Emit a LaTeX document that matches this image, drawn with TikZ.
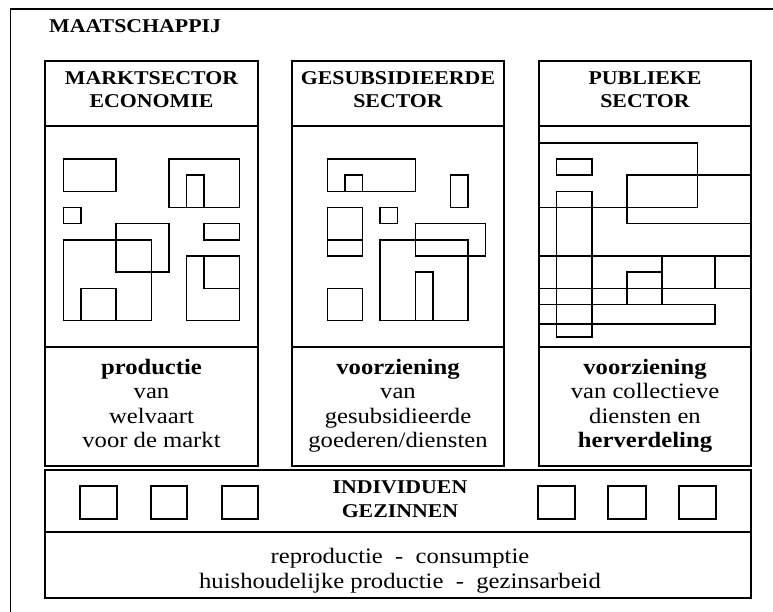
\documentclass[tikz,border=0pt]{standalone}
\usepackage{fontspec}
\setmainfont{Liberation Serif}[FakeStretch=1.12]
\begin{document}
\begin{tikzpicture}[x=1pt,y=-1pt,
  frame/.style={line width=1.9pt},
  colbox/.style={draw, line width=1.6pt},
  divline/.style={line width=1.4pt},
  blk/.style={draw, line width=1.5pt},
  head/.style={font=\fontsize{19.5}{23}\bfseries\selectfont, anchor=base, inner sep=0pt},
  body/.style={font=\fontsize{22}{24}\selectfont, anchor=base, inner sep=0pt},
  bodyb/.style={font=\fontsize{22}{24}\bfseries\selectfont, anchor=base, inner sep=0pt},
]
\useasboundingbox (0,0) rectangle (773,612);
\clip (0,0) rectangle (773,612);
\fill[white] (0,0) rectangle (773,612);

% outer frame (runs past the right and bottom edges)
\draw[frame] (10.5,640) -- (10.5,9) -- (800,9);
\node[head, anchor=base west] (maat) at (49,33) {MAATSCHAPPIJ};

% three sector columns
\draw[colbox] (45,61) rectangle (258,466);
\draw[divline] (45,126) -- (258,126) (45,347) -- (258,347);
\draw[colbox] (292,61) rectangle (504,466);
\draw[divline] (292,126) -- (504,126) (292,347) -- (504,347);
\draw[colbox] (539,61) rectangle (751,466);
\draw[divline] (539,126) -- (751,126) (539,347) -- (751,347);

% headings
\node[head] (h1a) at (151.5,84.5) {MARKTSECTOR};
\node[head] (h1b) at (151.5,108) {ECONOMIE};
\node[head] (h2a) at (398,84.5) {GESUBSIDIEERDE};
\node[head] (h2b) at (398,108) {SECTOR};
\node[head] (h3a) at (645,84.5) {PUBLIEKE};
\node[head] (h3b) at (645,108) {SECTOR};

% organisations in the market sector
\begin{scope}[shift={(63.3,159)}, x=17.6pt, y=-16.17pt]
  \draw[blk] (0,0) rectangle (3,2);
  \draw[blk] (6,0) rectangle (10,3);
  \draw[blk] (7,1) rectangle (8,3);
  \draw[blk] (0,3) rectangle (1,4);
  \draw[blk] (8,4) rectangle (10,5);
  \draw[blk] (3,4) rectangle (6,7);
  \draw[blk] (0,5) rectangle (5,10);
  \draw[blk] (1,8) rectangle (3,10);
  \draw[blk] (7,6) rectangle (10,10);
  \draw[blk] (8,6) rectangle (10,8);
\end{scope}

% organisations in the subsidised sector
\begin{scope}[shift={(327.3,159)}, x=17.6pt, y=-16.17pt]
  \draw[blk] (0,0) rectangle (5,2);
  \draw[blk] (1,1) rectangle (2,2);
  \draw[blk] (7,1) rectangle (8,3);
  \draw[blk] (0,3) rectangle (2,6);
  \draw[blk] (0,5) rectangle (2,6);
  \draw[blk] (3,3) rectangle (4,4);
  \draw[blk] (5,4) rectangle (9,6);
  \draw[blk] (3,5) rectangle (8,10);
  \draw[blk] (5,7) rectangle (6,10);
  \draw[blk] (0,8) rectangle (2,10);
\end{scope}

% organisations in the public sector
\begin{scope}[shift={(556.6,159)}, x=17.6pt, y=-16.17pt]
  \draw[blk] (-1,-1) rectangle (8,3);
  \draw[blk] (0,0) rectangle (2,1);
  \draw[blk] (4,1) rectangle (11.03,4);
  \draw[blk] (0,2) rectangle (2,11);
  \draw[blk] (-1,6) rectangle (11.03,8);
  \draw[blk] (6,6) rectangle (9,8);
  \draw[blk] (4,7) rectangle (6,9);
  \draw[blk] (-1,9) rectangle (9,10.2);
\end{scope}

% column descriptions
\node[bodyb] (t1a) at (151.5,374) {productie};
\node[body]  (t1b) at (151.5,398.5) {van};
\node[body]  (t1c) at (151.5,423) {welvaart};
\node[body]  (t1d) at (151.5,447) {voor de markt};

\node[bodyb] (t2a) at (398,374) {voorziening};
\node[body]  (t2b) at (398,398.5) {van};
\node[body]  (t2c) at (398,423) {gesubsidieerde};
\node[body]  (t2d) at (398,447) {goederen/diensten};

\node[bodyb] (t3a) at (645,374) {voorziening};
\node[body]  (t3b) at (645,398.5) {van collectieve};
\node[body]  (t3c) at (645,423) {diensten en};
\node[bodyb] (t3d) at (645,447) {herverdeling};

% households
\draw[colbox] (45,470) rectangle (751,598);
\draw[line width=1.1pt] (45,532) -- (751,532);
\draw[blk] (80,486) rectangle (117,519);
\draw[blk] (151,486) rectangle (187,519);
\draw[blk] (222,486) rectangle (258,519);
\draw[blk] (538,486) rectangle (575,519);
\draw[blk] (608,486) rectangle (646,519);
\draw[blk] (679,486) rectangle (716,519);
\node[head] (ind) at (400,493) {INDIVIDUEN};
\node[head] (gez) at (400,517) {GEZINNEN};
\node[body] (b1) at (400,563.5) {reproductie\ \ -\ \ consumptie};
\node[body] (b2) at (400,588) {huishoudelijke productie\ \ -\ \ gezinsarbeid};
\end{tikzpicture}
\end{document}
